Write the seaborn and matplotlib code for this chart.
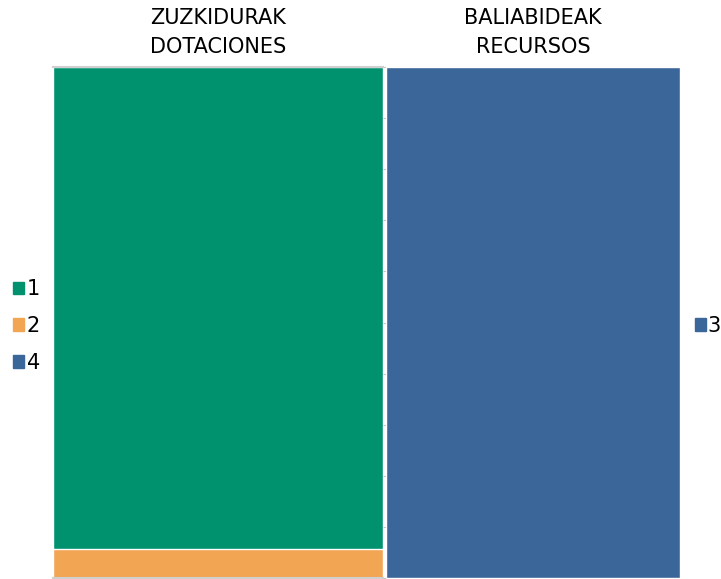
import numpy as np
import pandas as pd
import matplotlib.pyplot as plt
import seaborn as sns
from matplotlib.patches import Patch

# Datos
panel_titles = ['ZUZKIDURAK\nDOTACIONES', 'BALIABIDEAK\nRECURSOS']
left_labels = ['2', '1', '4']          # de abajo hacia arriba
left_values = [5.7, 94.3, 0.0]
right_labels = ['3']
right_values = [100.0]

colors = {'1': '#00926F', '2': '#F2A553', '3': '#3B6699', '4': '#3B6699'}

sns.set_style('white')
plt.rcParams['font.family'] = ['DejaVu Sans']
plt.rcParams['text.color'] = 'black'

fig = plt.figure(figsize=(7.21, 5.79), dpi=100)
ax1 = fig.add_axes([53 / 721, 1 / 579, 330 / 721, 511 / 579])
ax2 = fig.add_axes([386 / 721, 1 / 579, 294 / 721, 511 / 579])


def stacked(ax, labels, values):
    # capas acumuladas: la mas alta primero
    cum = np.cumsum(values)
    for i in range(len(labels) - 1, -1, -1):
        df = pd.DataFrame({'x': ['a'], 'y': [cum[i]]})
        sns.barplot(data=df, x='x', y='y', color=colors[labels[i]],
                    width=1.0, saturation=1, ax=ax)
    ax.set_xlim(-0.5, 0.5)
    ax.set_ylim(0, cum[-1])
    ax.set_xlabel('')
    ax.set_ylabel('')
    ax.set_xticks([])


stacked(ax1, left_labels, left_values)
stacked(ax2, right_labels, right_values)

# eje izquierdo: lineas grises arriba y abajo, ticks a la derecha
for s in ['left', 'right']:
    ax1.spines[s].set_visible(False)
for s in ['top', 'bottom']:
    ax1.spines[s].set_color('#d0d0d0')
    ax1.spines[s].set_linewidth(1.5)
ax1.yaxis.tick_right()
ax1.set_yticks(np.arange(0, 101, 10))
ax1.tick_params(axis='y', length=2, color='#c8c8c8', labelright=False)

for s in ax2.spines.values():
    s.set_visible(False)
ax2.set_yticks([])

for ax, t in zip([ax1, ax2], panel_titles):
    ax.set_title(t, fontsize=15, pad=10, linespacing=1.55, color='black')

h_left = [Patch(color=colors[k]) for k in ['1', '2', '4']]
fig.legend(h_left, ['1', '2', '4'], loc='center left', bbox_to_anchor=(0.018, 0.437),
           frameon=False, fontsize=15, handlelength=0.55, handleheight=0.55,
           handletextpad=0.1, labelspacing=0.8, borderaxespad=0, borderpad=0)
h_right = [Patch(color=colors['3'])]
fig.legend(h_right, ['3'], loc='center left', bbox_to_anchor=(0.9635, 0.437),
           frameon=False, fontsize=15, handlelength=0.55, handleheight=0.55,
           handletextpad=0.05, borderaxespad=0, borderpad=0)

fig.savefig('out.png', dpi=100)
